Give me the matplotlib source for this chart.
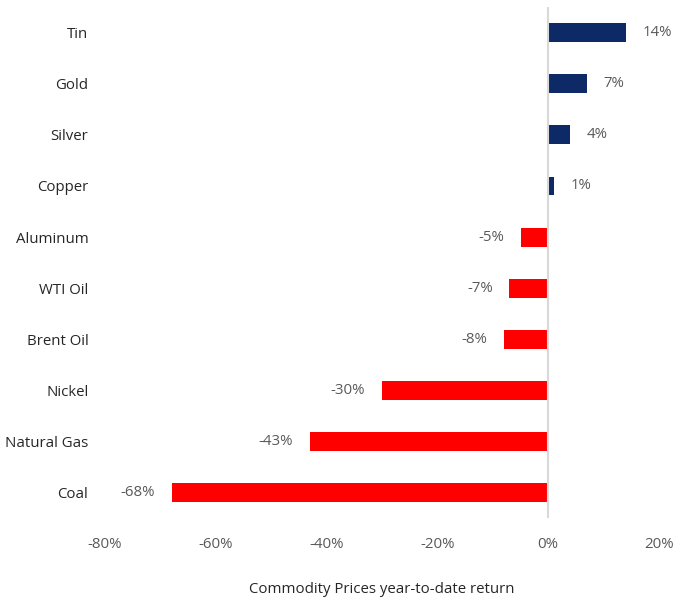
import matplotlib
matplotlib.use('Agg')
import matplotlib.pyplot as plt

plt.rcParams['font.family'] = ['Open Sans', 'DejaVu Sans']

commodities = ['Tin', 'Gold', 'Silver', 'Copper', 'Aluminum', 'WTI Oil',
               'Brent Oil', 'Nickel', 'Natural Gas', 'Coal']
returns = [14, 7, 4, 1, -5, -7, -8, -30, -43, -68]
x_ticks = [-80, -60, -40, -20, 0, 20]

navy = '#0d2a66'
red = '#ff0000'

fig = plt.figure(figsize=(6.75, 6.03), dpi=100)
ax = fig.add_axes([0.1556, 0.141, 0.8207, 0.847])

pos = list(range(len(commodities)))
colors = [navy if r > 0 else red for r in returns]
ax.barh(pos, returns, height=0.37, color=colors, zorder=2)

# value labels sit just past the end of each bar
for p, r in zip(pos, returns):
    if r >= 0:
        ax.annotate('%d%%' % r, (r, p), xytext=(12, 0), textcoords='offset points',
                    ha='left', va='center', fontsize=10.8, color='#595959')
    else:
        ax.annotate('%d%%' % r, (r, p), xytext=(-12, 0), textcoords='offset points',
                    ha='right', va='center', fontsize=10.8, color='#595959')

ax.axvline(0, color='#d9d9d9', lw=1.5, zorder=3)

ax.set_xlim(-80, 20)
ax.set_ylim(len(commodities) - 0.5, -0.5)
ax.set_xticks(x_ticks)
ax.set_xticklabels(['%d%%' % t for t in x_ticks], fontsize=10.8, color='#595959')
ax.set_yticks(pos)
ax.set_yticklabels(commodities, fontsize=10.8, color='#262626')
ax.tick_params(axis='x', length=0, pad=14)
ax.tick_params(axis='y', length=0, pad=12)
for s in ax.spines.values():
    s.set_visible(False)

ax.set_xlabel('Commodity Prices year-to-date return', fontsize=10.8,
              color='#262626', labelpad=21)

fig.savefig('out.png', dpi=100)
